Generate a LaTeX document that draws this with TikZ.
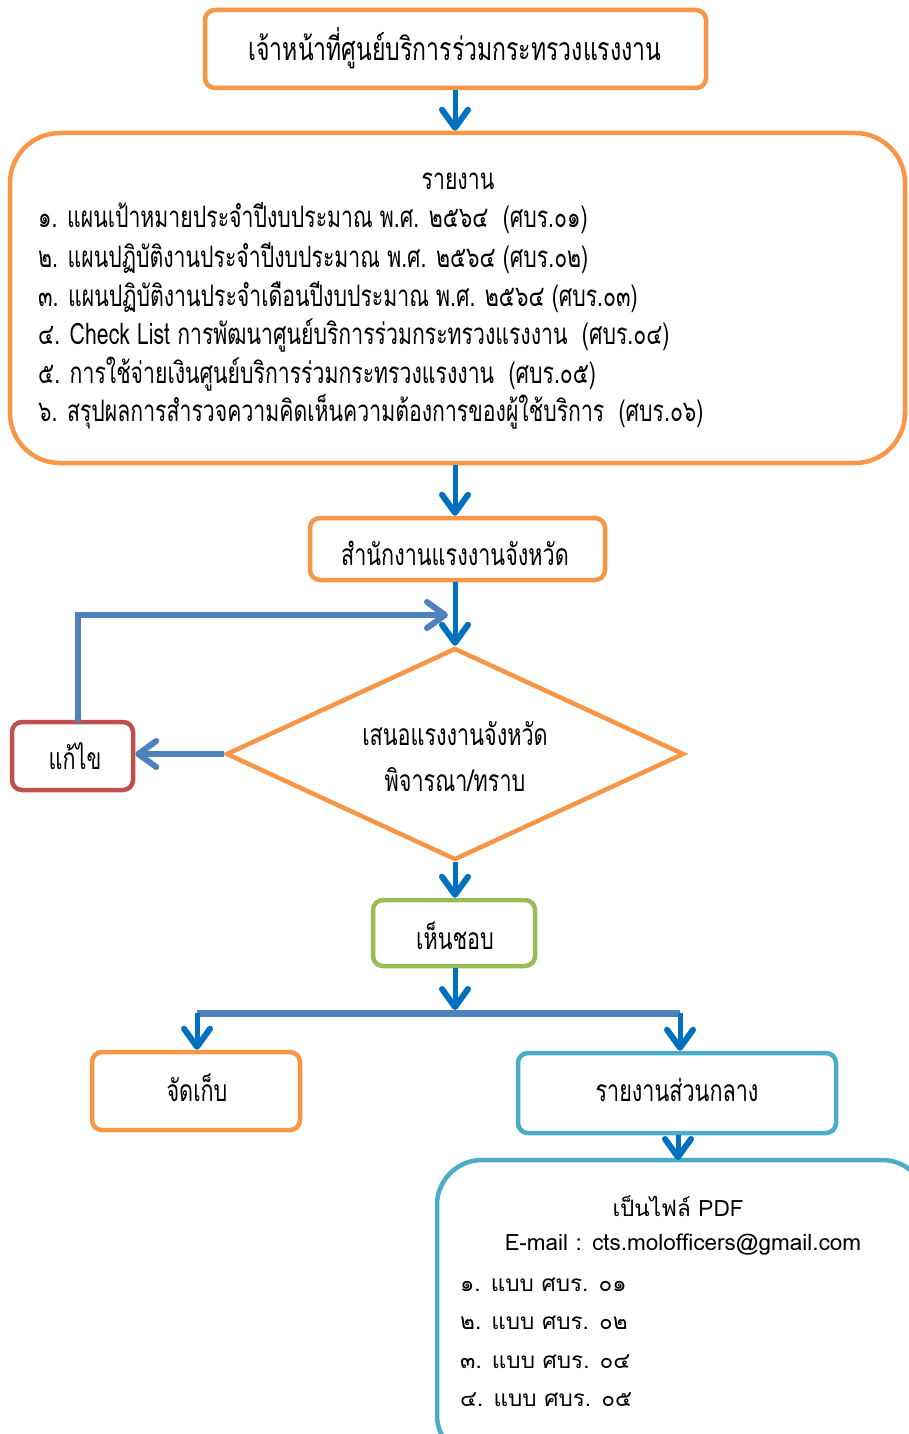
\documentclass[tikz,border=0pt]{standalone}
\usepackage{fontspec}
\usetikzlibrary{shapes.geometric,arrows.meta}
\newfontfamily\thaic[Script=Thai,FakeStretch=0.72]{Loma}
\newfontfamily\thaiw[Script=Thai]{Loma}
\definecolor{orng}{HTML}{F79646}
\definecolor{arrblue}{HTML}{0070C0}
\definecolor{loopblue}{HTML}{4F81BD}
\definecolor{redc}{HTML}{C0504D}
\definecolor{greenc}{HTML}{9BBB59}
\definecolor{tealc}{HTML}{4BACC6}
\tikzset{
  box/.style={draw=#1, line width=4.5pt, rounded corners=10pt, fill=white, inner sep=0pt},
  lbl/.style={font=\thaic\fontsize{30}{34}\selectfont, inner sep=0pt},
  lst/.style={font=\thaic\fontsize{29.5}{34}\selectfont, inner sep=0pt, anchor=west},
  lstw/.style={font=\thaiw\fontsize{22.5}{26}\selectfont, inner sep=0pt},
  arr/.style={draw=#1, line width=5pt, -{Straight Barb[length=18pt,width=26pt,line width=6pt,round]}},
}
\begin{document}
\begin{tikzpicture}[x=1pt,y=-1pt]
\useasboundingbox (0,0) rectangle (908,1434);
\fill[white] (0,0) rectangle (908,1434);
% nodes
\node[box=orng, minimum width=501pt, minimum height=78pt] (top) at (455.5,49) {};
\node[lbl, font=\thaic\fontsize{32}{36}\selectfont] (toptxt) at (455,48) {เจ้าหน้าที่ศูนย์บริการร่วมกระทรวงแรงงาน};
\node[box=orng, rounded corners=50pt, minimum width=895pt, minimum height=330pt] (big) at (457.5,298) {};
\node[lst, anchor=center] (rep) at (458,181) {รายงาน};
\node[lst] (l1) at (38,218) {๑. แผนเป้าหมายประจำปีงบประมาณ พ.ศ. ๒๕๖๔ \ (ศบร.๐๑)};
\node[lst] (l2) at (38,258) {๒. แผนปฏิบัติงานประจำปีงบประมาณ พ.ศ. ๒๕๖๔ (ศบร.๐๒)};
\node[lst] (l3) at (38,297) {๓. แผนปฏิบัติงานประจำเดือนปีงบประมาณ พ.ศ. ๒๕๖๔ (ศบร.๐๓)};
\node[lst] (l4) at (38,335) {๔. Check List การพัฒนาศูนย์บริการร่วมกระทรวงแรงงาน \ (ศบร.๐๔)};
\node[lst] (l5) at (38,374) {๕. การใช้จ่ายเงินศูนย์บริการร่วมกระทรวงแรงงาน \ (ศบร.๐๕)};
\node[lst] (l6) at (38,412) {๖. สรุปผลการสำรวจความคิดเห็นความต้องการของผู้ใช้บริการ \ (ศบร.๐๖)};
\node[box=orng, minimum width=295pt, minimum height=62pt] (prov) at (457.5,549) {};
\node[lbl] (provtxt) at (455,553) {สำนักงานแรงงานจังหวัด};
\node[diamond, draw=orng, line width=4.5pt, fill=white, minimum width=458pt, minimum height=212pt, inner sep=0pt] (dia) at (455,754) {};
\node[lbl] (d1) at (455,734) {เสนอแรงงานจังหวัด};
\node[lbl] (d2) at (455,780) {พิจารณา/ทราบ};
\node[box=redc, minimum width=121pt, minimum height=68pt] (fix) at (72.5,756) {};
\node[lbl] (fixtxt) at (75,756) {แก้ไข};
\node[box=greenc, minimum width=162pt, minimum height=66pt] (ok) at (454,933) {};
\node[lbl] (oktxt) at (455,936) {เห็นชอบ};
\node[box=orng, minimum width=208pt, minimum height=78pt] (keep) at (196,1091) {};
\node[lbl] (keeptxt) at (197,1088) {จัดเก็บ};
\node[box=tealc, minimum width=318pt, minimum height=80pt] (central) at (677,1093) {};
\node[lbl] (centtxt) at (677,1090) {รายงานส่วนกลาง};
\node[box=tealc, rounded corners=45pt, minimum width=490pt, minimum height=300pt] (pdf) at (682,1310) {};
\node[lstw] (p1) at (678,1206) {เป็นไฟล์ PDF};
\node[lstw] (p2) at (683,1245) {E-mail : cts.molofficers@gmail.com};
\node[lstw, anchor=west] (p3) at (460,1285) {๑. แบบ ศบร. ๐๑};
\node[lstw, anchor=west] (p4) at (460,1323) {๒. แบบ ศบร. ๐๒};
\node[lstw, anchor=west] (p5) at (460,1362) {๓. แบบ ศบร. ๐๔};
\node[lstw, anchor=west] (p6) at (460,1400) {๔. แบบ ศบร. ๐๕};
% coordinates
\coordinate (loopstart) at (78,722);
\coordinate (loopend) at (448,615);
\coordinate (split) at (455,1010);
\coordinate (splitL) at (197,1013);
\coordinate (splitR) at (680,1013);
\coordinate (cdown) at (678,1135);
\coordinate (pdftop) at (678,1160);
% connectors
\draw[arr=arrblue] (top.south -| dia.north) -- (big.north -| dia.north);
\draw[arr=arrblue] (big.south -| dia.north) -- (prov.north -| dia.north);
\draw[arr=arrblue] (prov.south -| dia.north) -- (dia.north);
\draw[arr=loopblue, line width=6pt] (loopstart) |- (loopend);
\draw[arr=loopblue, line width=6pt] (dia.west) -- (dia.west -| fix.east);
\draw[arr=arrblue] (dia.south) -- (ok.north -| dia.south);
\draw[arr=arrblue] (ok.south -| dia.south) -- (split);
\draw[line width=7pt, loopblue] (splitL) -- (splitR);
\draw[arr=arrblue] (splitL) -- (keep.north -| splitL);
\draw[arr=arrblue] (splitR) -- (central.north -| splitR);
\draw[arr=arrblue] (cdown) -- (pdftop);
\end{tikzpicture}
\end{document}
